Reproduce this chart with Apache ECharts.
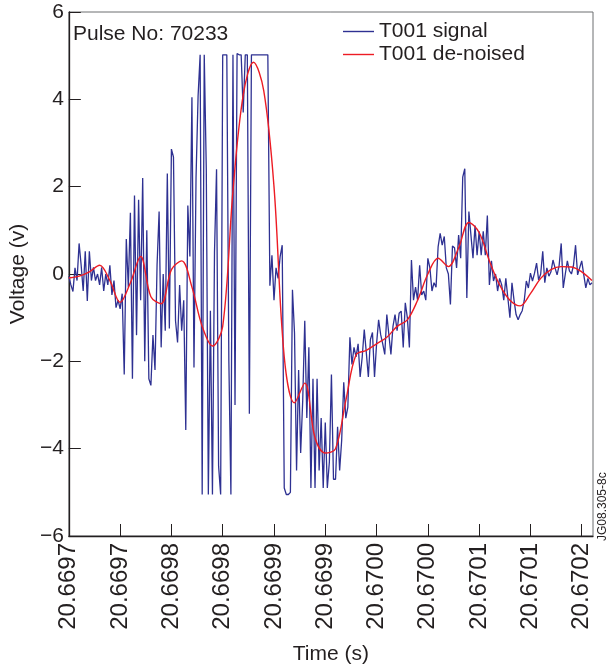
<!DOCTYPE html>
<html>
<head>
<meta charset="utf-8">
<script src="https://cdn.jsdelivr.net/npm/echarts@6/dist/echarts.min.js"></script>
<style>
  html, body { margin: 0; padding: 0; background: #fff; }
  #chart { width: 615px; height: 670px; }
</style>
</head>
<body>
<div id="chart"></div>
<script>
// Time axis: microseconds after 20.6697 s, ticks every 50 µs
const tickLabels = ['20.6697', '20.6697', '20.6698', '20.6698', '20.6699', '20.6699',
                    '20.6700', '20.6700', '20.6701', '20.6701', '20.6702'];
const tickStepUs = 50;
const axisEndUs = 511;

// Raw T001 signal (V), one sample every 2 µs
const signalStepUs = 2;
const signalValues = [
  -0.05, -0.25, -0.4, 0.14, -0.15, 0.7, 0.2, -0.39, 0.52, -0.62,
  0.52, -0.15, 0.15, -0.15, 0.0, -0.25, 0.15, -0.39, 0.0, -0.25,
  0.2, -0.48, -0.15, -0.77, -0.6, -0.8, -0.45, -2.3, 0.8, -0.3,
  1.4, -2.4, 1.8, -1.4, 1.7, -0.6, 2.2, -2.0, 1.0, -2.4,
  -2.55, -1.4, -2.2, 0.2, 1.43, -1.68, 0.0, -1.3, 2.3, -1.25,
  2.86, 2.68, -1.07, -1.57, -0.25, -1.3, -0.6, -3.57, 1.57, 0.4,
  4.05, -2.14, 2.2, 4.07, 5.02, -5.05, 5.02, 2.4, -5.05, -0.84,
  -5.05, 0.5, 2.4, -4.4, -5.05, 5.02, 5.02, 5.02, -2.0, -5.05,
  5.02, -3.0, 5.05, 5.02, 5.02, 3.7, 5.02, 5.02, -3.2, 5.02,
  5.02, 5.02, 5.02, 5.02, 5.02, 5.02, 5.02, 5.02, -0.27, 0.43,
  -0.6, 0.14, -0.1, 0.4, 0.66, -4.9, -5.05, -5.05, -5.0, -0.36,
  -1.35, -4.5, -2.2, -4.1, -2.9, -1.07, -3.3, -1.68, -4.9, -2.4,
  -4.9, -2.4, -4.5, -3.3, -4.9, -3.4, -4.9, -4.3, -2.3, -4.7,
  -4.7, -3.5, -4.5, -3.8, -2.48, -3.3, -3.05, -1.45, -2.07, -1.68,
  -1.9, -1.6, -2.36, -1.9, -1.27, -1.8, -2.36, -1.5, -1.34, -2.36,
  -1.6, -1.05, -1.39, -1.6, -1.84, -0.93, -1.39, -1.84, -1.2, -0.93,
  -1.3, -0.9, -0.85, -1.68, -0.66, -1.0, -1.68, 0.32, -0.6, -0.3,
  -0.6, 0.2, -0.48, -0.39, -0.6, 0.36, 0.14, -0.39, -0.2, -0.3,
  0.62, 0.93, 0.66, 0.86, 0.14, 0.0, -0.7, 0.64, 0.6, 0.14,
  0.89, 0.36, 2.22, 2.41, -0.55, 1.43, 0.89, 0.36, 1.11, 0.43,
  0.98, 0.43, 0.98, 0.43, 1.34, -0.25, 0.3, -0.16, 0.0, -0.39,
  -0.1, -0.25, -0.6, -0.1, -0.55, -1.0, -0.2, -0.6, -0.93, -1.05,
  -0.93, -0.84, -0.6, -0.16, -0.32, 0.02, -0.16, 0.02, 0.25, -0.14,
  0.0, 0.52, -0.2, 0.14, -0.05, 0.05, 0.32, 0.14, -0.02, 0.2,
  0.7, -0.32, 0.0, 0.3, 0.07, 0.0, 0.2, 0.66, -0.02, 0.14,
  0.3, -0.02, -0.32, -0.1, -0.25, -0.2
];

// De-noised T001 (V), one value every 10 µs
const denoisedStepUs = 10;
const denoisedValues = [
  -0.09, -0.05, 0.05, 0.2, -0.15, -0.65, -0.2, 0.4, -0.52, -0.68,
  0.1, 0.3, -0.3, -1.2, -1.65, -1.2, 1.9, 4.1, 4.85, 4.2,
  2.0, -1.9, -2.95, -2.5, -3.75, -4.1, -4.0, -2.9, -1.85, -1.75,
  -1.6, -1.45, -1.2, -1.05, -0.6, 0.0, 0.36, 0.17, 0.6, 1.18,
  0.95, 0.3, -0.25, -0.6, -0.73, -0.45, -0.1, 0.1, 0.17, 0.16,
  0.05, -0.15
];

const yTicks = { min: -6, max: 6, step: 2 };

const FONT = "'Liberation Sans', Arial, Helvetica, sans-serif";
const INK = '#231f20';

const signalData = signalValues.map((v, i) => [i * signalStepUs, v]);
const denoisedData = denoisedValues.map((v, i) => [i * denoisedStepUs, v]);

const chart = echarts.init(document.getElementById('chart'), null, { renderer: 'canvas' });

chart.setOption({
  animation: false,
  backgroundColor: '#ffffff',
  textStyle: { fontFamily: FONT, color: INK },
  title: {
    text: 'Pulse No: 70233',
    left: 68,
    top: 19,
    textStyle: { fontFamily: FONT, fontSize: 21, fontWeight: 'normal', color: INK }
  },
  legend: {
    left: 338,
    top: 16,
    orient: 'vertical',
    icon: 'rect',
    itemWidth: 31,
    itemHeight: 1.4,
    itemGap: 2,
    textStyle: { fontFamily: FONT, fontSize: 21, color: INK, padding: [0, 0, 0, 0] },
    data: ['T001 signal', 'T001 de-noised']
  },
  grid: {
    left: 64, right: 22, top: 12, bottom: 130,
    show: true, borderColor: '#6d6e71', borderWidth: 1, backgroundColor: 'transparent'
  },
  xAxis: {
    type: 'value',
    min: 0,
    max: axisEndUs,
    interval: tickStepUs,
    name: 'Time (s)',
    nameLocation: 'middle',
    nameGap: 108,
    nameTextStyle: { fontFamily: FONT, fontSize: 21, color: INK },
    axisLine: { onZero: false, lineStyle: { color: INK, width: 1.3 } },
    axisTick: { inside: true, length: 12, lineStyle: { color: INK, width: 1 } },
    splitLine: { show: false },
    axisLabel: {
      rotate: 90,
      margin: 7,
      showMaxLabel: false,
      fontFamily: FONT,
      fontSize: 24,
      color: INK,
      formatter: v => {
        const k = Math.round(v / tickStepUs);
        return Math.abs(v - k * tickStepUs) < 1e-6 && tickLabels[k] ? tickLabels[k] : '';
      }
    }
  },
  yAxis: {
    type: 'value',
    min: yTicks.min,
    max: yTicks.max,
    interval: yTicks.step,
    name: 'Voltage (v)',
    nameLocation: 'middle',
    nameGap: 33,
    nameRotate: 90,
    nameTextStyle: { fontFamily: FONT, fontSize: 21, color: INK },
    axisLine: { onZero: false, lineStyle: { color: INK, width: 1.3 } },
    axisTick: { inside: true, length: 12, lineStyle: { color: INK, width: 1 } },
    splitLine: { show: false },
    axisLabel: {
      margin: 5,
      fontFamily: FONT,
      fontSize: 21,
      color: INK,
      formatter: v => (v < 0 ? '\u2212' + Math.abs(v) : String(v))
    }
  },
  graphic: [{
    type: 'text',
    x: 609,
    y: 541,
    rotation: Math.PI / 2,
    style: {
      text: 'JG08.305-8c',
      font: "12px " + FONT,
      fill: INK,
      textAlign: 'left',
      textVerticalAlign: 'bottom'
    }
  }],
  series: [
    {
      name: 'T001 signal',
      type: 'line',
      data: signalData,
      symbol: 'none',
      lineStyle: { color: '#2e3192', width: 1.3 },
      itemStyle: { color: '#2e3192' },
      z: 2
    },
    {
      name: 'T001 de-noised',
      type: 'line',
      data: denoisedData,
      symbol: 'none',
      smooth: 0.35,
      lineStyle: { color: '#ed1c24', width: 1.4 },
      itemStyle: { color: '#ed1c24' },
      z: 3
    }
  ]
});
</script>
</body>
</html>
